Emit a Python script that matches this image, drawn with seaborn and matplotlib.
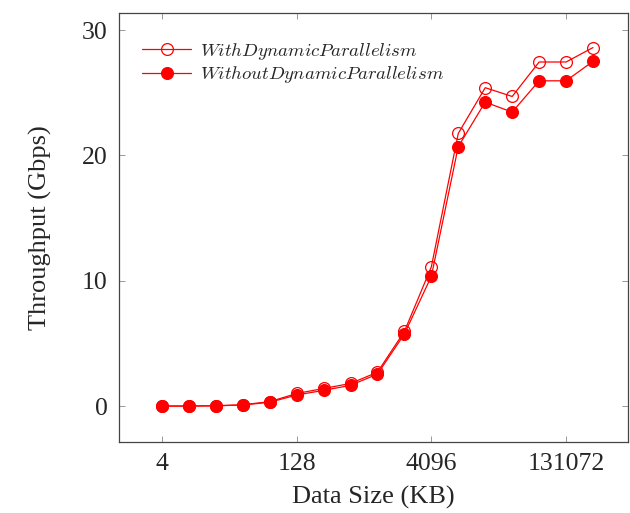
import matplotlib
matplotlib.use("Agg")
import matplotlib.pyplot as plt
import seaborn as sns
import pandas as pd
from matplotlib.ticker import FixedLocator, FixedFormatter, NullLocator

sizes_kb = [4, 8, 16, 32, 64, 128, 256, 512, 1024, 2048, 4096, 8192, 16384,
            32768, 65536, 131072, 262144]
with_dp = [0.0, 0.0, 0.02, 0.1, 0.35, 1.0, 1.4, 1.8, 2.7, 5.95, 11.1, 21.75,
           25.4, 24.7, 27.45, 27.45, 28.6]
without_dp = [0.0, 0.0, 0.02, 0.08, 0.3, 0.88, 1.25, 1.65, 2.55, 5.75, 10.35,
              20.7, 24.25, 23.45, 25.95, 25.95, 27.5]
x_ticks = [4, 128, 4096, 131072]
x_tick_labels = ["4", "128", "4096", "131072"]
y_ticks = [0, 10, 20, 30]
labels = [r"$WithDynamicParallelism$", r"$WithoutDynamicParallelism$"]

sns.set_style("white")
plt.rcParams["font.family"] = ["Liberation Serif", "DejaVu Serif"]
plt.rcParams["mathtext.fontset"] = "cm"

df = pd.DataFrame({"size": sizes_kb, "with": with_dp, "without": without_dp})

fig = plt.figure(figsize=(6.3, 5.13), dpi=100)
ax = fig.add_axes([119 / 630, 1 - 442 / 513, (628 - 119) / 630, (442 - 13) / 513])

sns.lineplot(data=df, x="size", y="with", ax=ax, color="red", lw=0.9,
             marker="o", markersize=8.5, markerfacecolor="none",
             markeredgecolor="red", markeredgewidth=0.9, label=labels[0])
sns.lineplot(data=df, x="size", y="without", ax=ax, color="red", lw=0.9,
             marker="o", markersize=8.5, markerfacecolor="red",
             markeredgecolor="red", markeredgewidth=0.9, label=labels[1])

ax.set_xscale("log", base=2)
ax.set_xlim(2 ** 0.407, 2 ** 19.3)
ax.set_ylim(-2.87, 31.36)
ax.xaxis.set_major_locator(FixedLocator(x_ticks))
ax.xaxis.set_major_formatter(FixedFormatter(x_tick_labels))
ax.xaxis.set_minor_locator(NullLocator())
ax.set_yticks(y_ticks)
ax.tick_params(axis="both", which="major", direction="in", length=4.5,
               width=0.6, color="#888888", labelsize=18.5, top=True, right=True,
               bottom=True, left=True, pad=8)
ax.set_xlabel("Data Size (KB)", fontsize=19, labelpad=8)
ax.set_ylabel("Throughput (Gbps)", fontsize=19, labelpad=22)
for s in ax.spines.values():
    s.set_visible(True)
    s.set_color("#444444")
    s.set_linewidth(0.9)

leg = ax.legend(loc="upper left", frameon=False, fontsize=13.5,
                bbox_to_anchor=(0.013, 0.975), handlelength=2.6,
                handletextpad=0.45, labelspacing=0.15)

fig.savefig("out.png", dpi=100)
